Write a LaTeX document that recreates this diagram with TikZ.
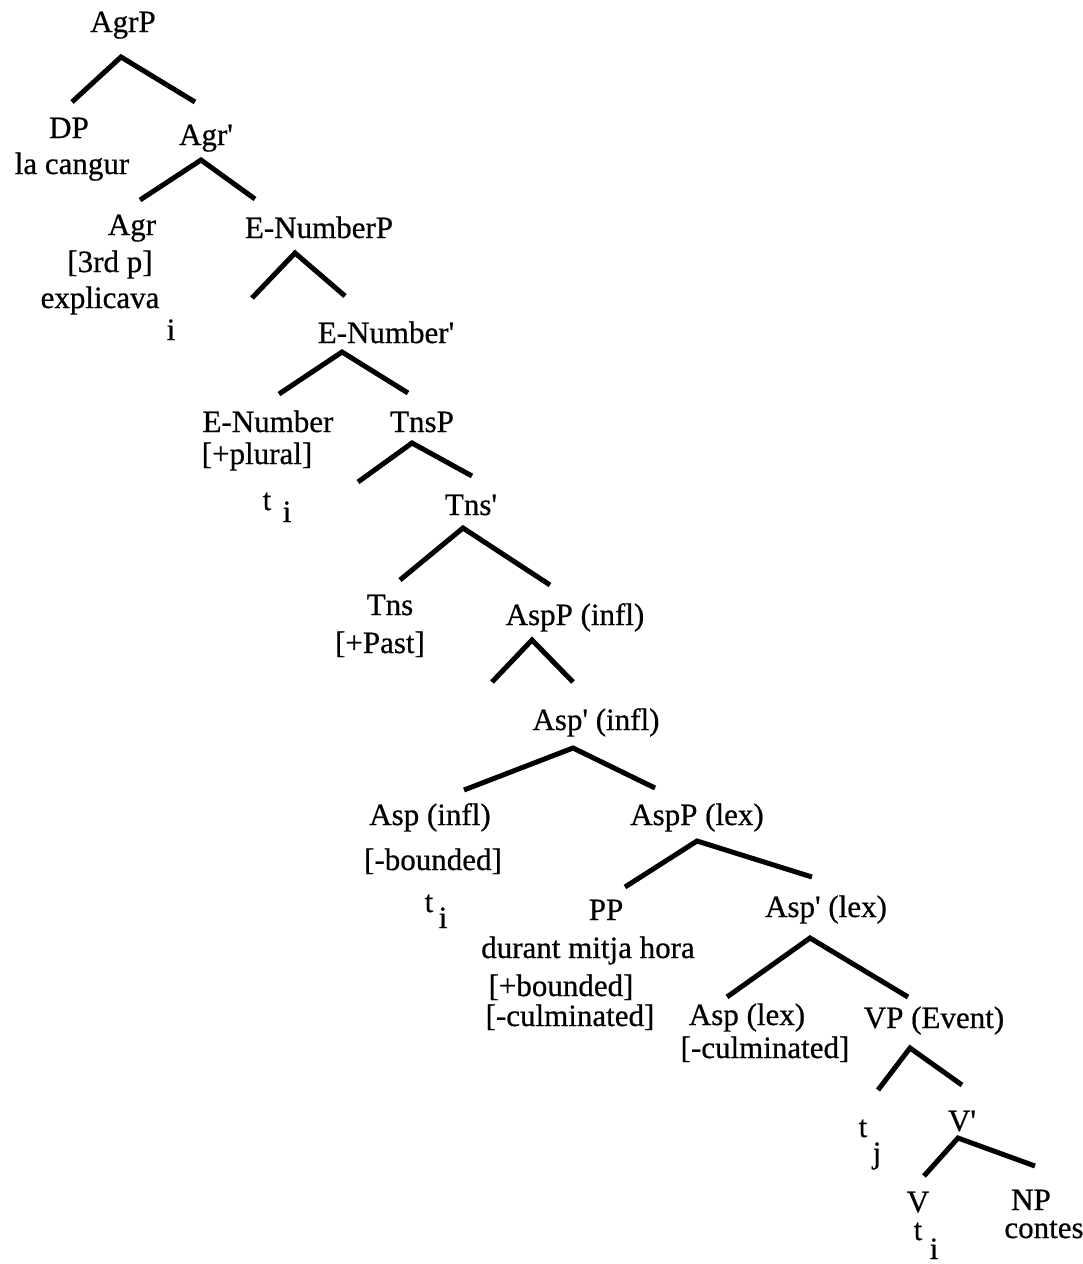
\documentclass[tikz,border=0pt]{standalone}
\usepackage{fontspec}
\setmainfont{Liberation Serif}[FakeBold=0.6]
\newcommand\apos{\textquotesingle}
\begin{document}
\begin{tikzpicture}[x=1pt,y=-1pt,
  lbl/.style={anchor=base,inner sep=0pt,outer sep=0pt,font=\fontsize{31}{36}\selectfont},
  branch/.style={line width=5pt,line cap=butt,line join=miter}]
\useasboundingbox (0,0) rectangle (1083,1264);

% ---- labels ----
\node[lbl] (agrp)    at (123,32)   {AgrP};
\node[lbl] (dp)      at (69,138)   {DP};
\node[lbl] (dpw)     at (72,174)   {la cangur};
\node[lbl] (agrbar)  at (206,145)  {Agr\apos};
\node[lbl] (agr)     at (132,235)  {Agr};
\node[lbl] (agrf)    at (110,272)  {[3rd p]};
\node[lbl] (agrw)    at (100,308)  {explicava};
\node[lbl] (agri)    at (171,340)  {i};
\node[lbl] (enump)   at (319,238)  {E-NumberP};
\node[lbl] (enumbar) at (386,343)  {E-Number\apos};
\node[lbl] (enum)    at (268,432)  {E-Number};
\node[lbl] (enumf)   at (257,464)  {[+plural]};
\node[lbl] (enumt)   at (267,510)  {t};
\node[lbl] (enumi)   at (287,522)  {i};
\node[lbl] (tnsp)    at (422,432)  {TnsP};
\node[lbl] (tnsbar)  at (471,515)  {Tns\apos};
\node[lbl] (tns)     at (390,615)  {Tns};
\node[lbl] (tnsf)    at (380,653)  {[+Past]};
\node[lbl] (asppi)   at (575,625)  {AspP (infl)};
\node[lbl] (aspbi)   at (596,730)  {Asp\apos\ (infl)};
\node[lbl] (aspi)    at (430,825)  {Asp (infl)};
\node[lbl] (aspif)   at (433,870)  {[-bounded]};
\node[lbl] (aspit)   at (429,912)  {t};
\node[lbl] (aspii)   at (443,928)  {i};
\node[lbl] (asppl)   at (697,825)  {AspP (lex)};
\node[lbl] (pp)      at (606,920)  {PP};
\node[lbl] (ppw)     at (588,958)  {durant mitja hora};
\node[lbl] (ppf)     at (561,996)  {[+bounded]};
\node[lbl] (ppg)     at (570,1026) {[-culminated]};
\node[lbl] (aspbl)   at (826,917)  {Asp\apos\ (lex)};
\node[lbl] (aspl)    at (747,1025) {Asp (lex)};
\node[lbl] (asplf)   at (765,1058) {[-culminated]};
\node[lbl] (vp)      at (934,1028) {VP (Event)};
\node[lbl] (vpt)     at (863,1137) {t};
\node[lbl] (vpj)     at (877,1163) {j};
\node[lbl] (vbar)    at (962,1131) {V\apos};
\node[lbl] (v)       at (918,1212) {V};
\node[lbl] (vt)      at (918,1240) {t};
\node[lbl] (vi)      at (934,1259) {i};
\node[lbl] (np)      at (1031,1210) {NP};
\node[lbl] (npw)     at (1044,1238) {contes};

% ---- branch points ----
\coordinate (b1)  at (121,57);   \coordinate (b1l)  at (72,102);   \coordinate (b1r)  at (195,102);
\coordinate (b2)  at (201,160);  \coordinate (b2l)  at (140,200);  \coordinate (b2r)  at (255,199);
\coordinate (b3)  at (295,253);  \coordinate (b3l)  at (252,298);  \coordinate (b3r)  at (345,296);
\coordinate (b4)  at (342,352);  \coordinate (b4l)  at (279,394);  \coordinate (b4r)  at (408,393);
\coordinate (b5)  at (412,443);  \coordinate (b5l)  at (358,482);  \coordinate (b5r)  at (472,476);
\coordinate (b6)  at (463,528);  \coordinate (b6l)  at (400,580);  \coordinate (b6r)  at (550,585);
\coordinate (b7)  at (532,640);  \coordinate (b7l)  at (492,682);  \coordinate (b7r)  at (573,682);
\coordinate (b8)  at (573,748);  \coordinate (b8l)  at (464,790);  \coordinate (b8r)  at (655,788);
\coordinate (b9)  at (697,841);  \coordinate (b9l)  at (625,887);  \coordinate (b9r)  at (812,877);
\coordinate (b10) at (810,938);  \coordinate (b10l) at (727,997);  \coordinate (b10r) at (908,997);
\coordinate (b11) at (910,1048); \coordinate (b11l) at (878,1090); \coordinate (b11r) at (962,1085);
\coordinate (b12) at (958,1138); \coordinate (b12l) at (924,1176); \coordinate (b12r) at (1035,1166);

\foreach \n in {b1,b2,b3,b4,b5,b6,b7,b8,b9,b10,b11,b12}
  \draw[branch] (\n l) -- (\n) -- (\n r);
\end{tikzpicture}
\end{document}
